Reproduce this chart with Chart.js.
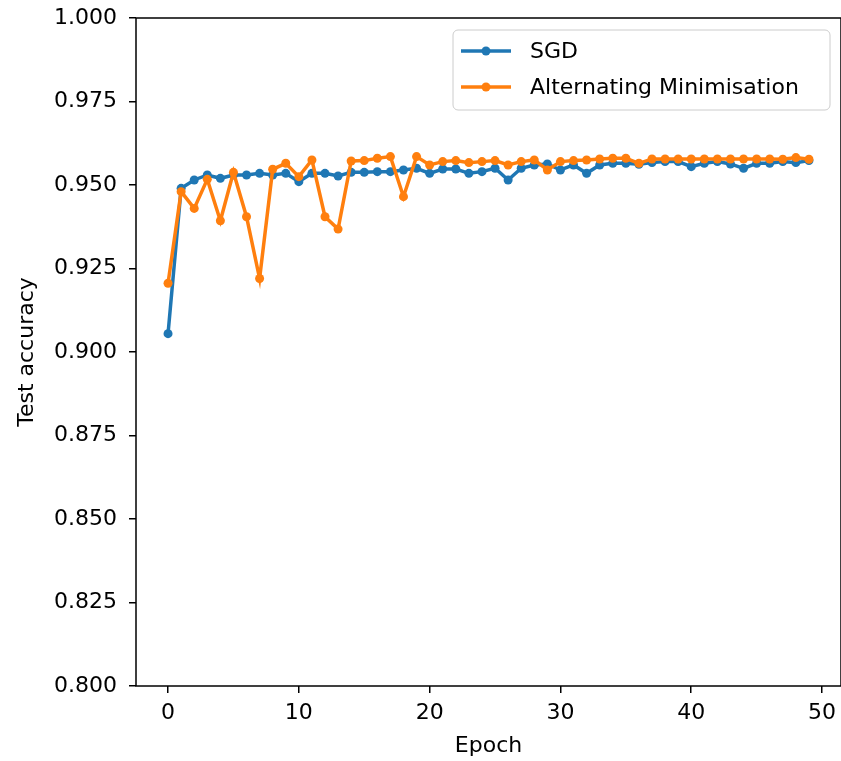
<!DOCTYPE html>
<html>
<head>
<meta charset="utf-8">
<script src="https://cdn.jsdelivr.net/npm/chart.js@4.4.1/dist/chart.umd.min.js"></script>
<style>
  body { margin: 0; background: #fff; }
  #wrap { width: 841px; height: 761px; }
</style>
</head>
<body>
<div id="wrap"><canvas id="accChart" width="841" height="761"></canvas></div>
<script>
/* data */
const epochs = [0, 1, 2, 3, 4, 5, 6, 7, 8, 9, 10, 11, 12, 13, 14, 15, 16, 17, 18, 19,
  20, 21, 22, 23, 24, 25, 26, 27, 28, 29, 30, 31, 32, 33, 34, 35, 36, 37, 38, 39,
  40, 41, 42, 43, 44, 45, 46, 47, 48, 49];

const sgdAcc = [0.9055, 0.9490, 0.9515, 0.9530, 0.9520, 0.9530, 0.9530, 0.9535, 0.9530, 0.9535,
  0.9510, 0.9535, 0.9535, 0.9527, 0.9538, 0.9538, 0.9540, 0.9540, 0.9545, 0.9550,
  0.9535, 0.9548, 0.9548, 0.9535, 0.9540, 0.9550, 0.9515, 0.9550, 0.9560, 0.9563,
  0.9545, 0.9560, 0.9535, 0.9560, 0.9565, 0.9565, 0.9562, 0.9567, 0.9570, 0.9570,
  0.9555, 0.9565, 0.9570, 0.9563, 0.9550, 0.9565, 0.9565, 0.9570, 0.9567, 0.9573];

const altMinAcc = [0.9206, 0.9480, 0.9430, 0.9517, 0.9393, 0.9538, 0.9405, 0.9220, 0.9547, 0.9565,
  0.9525, 0.9575, 0.9405, 0.9368, 0.9572, 0.9573, 0.9580, 0.9585, 0.9465, 0.9585,
  0.9560, 0.9570, 0.9573, 0.9567, 0.9570, 0.9573, 0.9560, 0.9570, 0.9575, 0.9545,
  0.9570, 0.9573, 0.9575, 0.9578, 0.9580, 0.9580, 0.9565, 0.9578, 0.9578, 0.9578,
  0.9578, 0.9578, 0.9578, 0.9578, 0.9578, 0.9578, 0.9578, 0.9577, 0.9582, 0.9577];

const xTicks = [0, 10, 20, 30, 40, 50];
const yTicks = [0.800, 0.825, 0.850, 0.875, 0.900, 0.925, 0.950, 0.975, 1.000];

const seriesNames = ['SGD', 'Alternating Minimisation'];
const seriesColors = ['#1f77b4', '#ff7f0e'];

const FONT = 'DejaVu Sans';
const FS = 22;

const toPoints = vals => vals.map((v, i) => ({ x: epochs[i], y: v }));

/* spines + legend drawn like matplotlib */
const frameAndLegend = {
  id: 'frameAndLegend',
  afterDraw(chart) {
    const ctx = chart.ctx;
    const a = chart.chartArea;
    ctx.save();
    ctx.strokeStyle = '#000';
    ctx.lineWidth = 1.5;
    ctx.strokeRect(a.left, a.top, a.right - a.left, a.bottom - a.top);

    // legend box, upper right
    const bx = a.right - 388, by = a.top + 12, bw = 377, bh = 80, r = 5;
    ctx.beginPath();
    ctx.moveTo(bx + r, by);
    ctx.arcTo(bx + bw, by, bx + bw, by + bh, r);
    ctx.arcTo(bx + bw, by + bh, bx, by + bh, r);
    ctx.arcTo(bx, by + bh, bx, by, r);
    ctx.arcTo(bx, by, bx + bw, by, r);
    ctx.closePath();
    ctx.fillStyle = 'rgba(255,255,255,0.8)';
    ctx.fill();
    ctx.strokeStyle = '#cccccc';
    ctx.lineWidth = 1;
    ctx.stroke();

    seriesNames.forEach((name, i) => {
      const y = by + 21 + i * 36;
      ctx.strokeStyle = seriesColors[i];
      ctx.lineWidth = 3.5;
      ctx.beginPath();
      ctx.moveTo(bx + 8, y);
      ctx.lineTo(bx + 58, y);
      ctx.stroke();
      ctx.fillStyle = seriesColors[i];
      ctx.beginPath();
      ctx.arc(bx + 33, y, 4.5, 0, Math.PI * 2);
      ctx.fill();
      ctx.fillStyle = '#000';
      ctx.font = FS + 'px "' + FONT + '"';
      ctx.textAlign = 'left';
      ctx.textBaseline = 'middle';
      ctx.fillText(name, bx + 77, y + 1);
    });
    ctx.restore();
  }
};

const accChart = new Chart(document.getElementById('accChart'), {
  type: 'line',
  data: {
    datasets: [
      {
        label: seriesNames[0],
        data: toPoints(sgdAcc),
        borderColor: seriesColors[0],
        backgroundColor: seriesColors[0],
        pointBackgroundColor: seriesColors[0],
        borderWidth: 3.5,
        pointRadius: 4.5,
        pointBorderWidth: 0,
        tension: 0,
        order: 2
      },
      {
        label: seriesNames[1],
        data: toPoints(altMinAcc),
        borderColor: seriesColors[1],
        backgroundColor: seriesColors[1],
        pointBackgroundColor: seriesColors[1],
        borderWidth: 3.5,
        pointRadius: 4.5,
        pointBorderWidth: 0,
        tension: 0,
        order: 1
      }
    ]
  },
  options: {
    responsive: false,
    devicePixelRatio: 1,
    animation: false,
    layout: { autoPadding: false, padding: { top: 18, right: -2, left: 0, bottom: 0 } },
    plugins: {
      legend: { display: false },
      tooltip: { enabled: false }
    },
    scales: {
      x: {
        type: 'linear',
        min: -2.45,
        max: 51.45,
        afterFit: axis => {
          axis.height = 75;
          axis.paddingLeft = 0;
          axis.paddingRight = 0;
        },
        afterBuildTicks: axis => { axis.ticks = xTicks.map(v => ({ value: v })); },
        border: { display: false },
        grid: { drawOnChartArea: false, drawTicks: true, tickLength: 7, color: '#000', lineWidth: 1.5 },
        ticks: {
          color: '#000',
          padding: 7,
          maxRotation: 0,
          font: { family: FONT, size: FS },
          callback: v => String(v)
        },
        title: {
          display: true,
          text: 'Epoch',
          color: '#000',
          font: { family: FONT, size: FS, lineHeight: 1.2 },
          padding: { top: 0, bottom: 2 }
        }
      },
      y: {
        min: 0.8,
        max: 1.0,
        afterFit: axis => {
          axis.width = 136;
          axis.paddingTop = 0;
          axis.paddingBottom = 0;
        },
        afterBuildTicks: axis => { axis.ticks = yTicks.map(v => ({ value: v })); },
        border: { display: false },
        grid: { drawOnChartArea: false, drawTicks: true, tickLength: 7, color: '#000', lineWidth: 1.5 },
        ticks: {
          color: '#000',
          padding: 12,
          font: { family: FONT, size: FS },
          callback: v => Number(v).toFixed(3)
        },
        title: {
          display: true,
          text: 'Test accuracy',
          color: '#000',
          font: { family: FONT, size: FS, lineHeight: 1.2 },
          padding: { top: 14, bottom: 0 }
        }
      }
    }
  },
  plugins: [frameAndLegend]
});
</script>
</body>
</html>
